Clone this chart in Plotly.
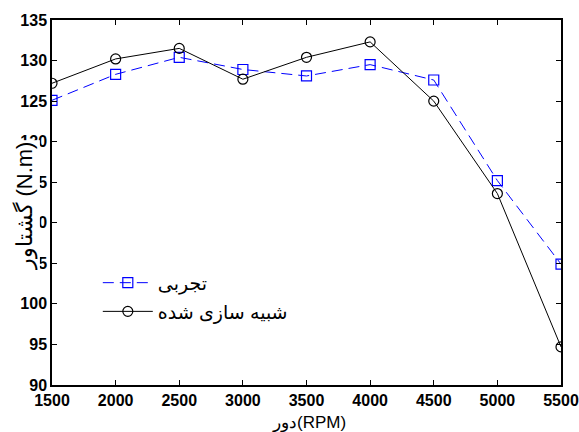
import plotly.graph_objects as go

rpm = [1500, 2000, 2500, 3000, 3500, 4000, 4500, 5000, 5500]
experimental = [125.1, 128.3, 130.4, 128.9, 128.1, 129.5, 127.6, 115.2, 104.9]
simulated = [127.2, 130.2, 131.5, 127.7, 130.4, 132.3, 125.0, 113.6, 94.7]
x_ticks = [1500, 2000, 2500, 3000, 3500, 4000, 4500, 5000, 5500]
y_ticks = [90, 95, 100, 105, 110, 115, 120, 125, 130, 135]
label_exp = "تجربی"
label_sim = "شبیه سازی شده"
x_title = "دور(RPM)"
y_title = "گشتاور (N.m)"

fig = go.Figure()
fig.add_trace(go.Scatter(
    x=rpm, y=experimental, name=label_exp, mode="lines+markers", legendgroup="a",
    line=dict(color="#0000ff", width=1, dash="11px,6px"),
    marker=dict(symbol="square-open", size=10, color="#0000ff", line=dict(width=1.2)),
))
fig.add_trace(go.Scatter(
    x=rpm, y=simulated, name=label_sim, mode="lines+markers", legendgroup="b",
    line=dict(color="black", width=1),
    marker=dict(symbol="circle-open", size=10, color="black", line=dict(width=1.2)),
))

axis_common = dict(
    showline=True, linecolor="black", linewidth=1.5, mirror="ticks",
    ticks="inside", ticklen=5, tickcolor="black", showgrid=False, zeroline=False,
    automargin=False,
    tickfont=dict(family="Liberation Sans, Arial", size=16, color="black"),
)
fig.update_xaxes(range=[1500, 5500], tickvals=x_ticks,
                 ticktext=[f"<b>{v}</b>" for v in x_ticks], **axis_common)
fig.update_yaxes(range=[90, 135], tickvals=y_ticks,
                 ticktext=[f"<b>{v}</b>" for v in y_ticks], **axis_common)

fig.add_annotation(
    text=x_title, xref="paper", yref="paper", x=0.505, y=-0.07, yanchor="top",
    showarrow=False, font=dict(family="Liberation Sans, Arial", size=17, color="black"),
)
fig.add_annotation(
    text=y_title, xref="paper", yref="paper", x=-0.052, y=0.49, xanchor="center",
    textangle=-90, showarrow=False, bgcolor="white",
    font=dict(family="Liberation Sans, Arial", size=22, color="black"),
)

fig.update_layout(
    width=579, height=432,
    margin=dict(l=52, r=18, t=20, b=47),
    paper_bgcolor="white", plot_bgcolor="white",
    legend=dict(x=0.09, y=0.332, xanchor="left", yanchor="top", bgcolor="rgba(0,0,0,0)",
                font=dict(family="Liberation Sans, DejaVu Sans, Arial", size=19, color="black"),
                itemwidth=50, tracegroupgap=1),
    showlegend=True,
)

fig.write_html("out.html", config={"displayModeBar": False},
               post_script="document.body.style.margin='0';document.body.style.overflow='hidden';")
